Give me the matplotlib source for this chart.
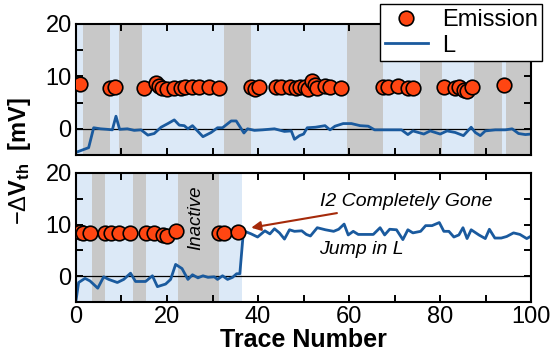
import matplotlib
matplotlib.use("Agg")
import matplotlib.pyplot as plt
import numpy as np

plt.rcParams['font.family'] = ['Liberation Sans', 'DejaVu Sans']
plt.rcParams['mathtext.fontset'] = 'custom'
plt.rcParams['mathtext.rm'] = 'Liberation Sans'
plt.rcParams['mathtext.it'] = 'Liberation Sans:italic'
plt.rcParams['mathtext.bf'] = 'Liberation Sans:bold'

# top panel: emission events and L
top_em_x = [1, 7.5, 8.5, 15, 17.5, 18.3, 19, 20, 21.5, 23, 24, 25.5, 27, 29.3, 31.5,
            38.5, 39.3, 40.3, 44, 45, 47, 48.3, 49.3, 50.3, 51, 51.8, 52.5, 53, 54.7,
            55.8, 58.3, 67.5, 68.6, 70.8, 73, 74, 80.8, 83.3, 84.1, 85.2, 85.9, 87, 93.9]
top_em_y = [8.5, 7.8, 8.0, 7.7, 8.8, 8.2, 7.8, 7.6, 7.8, 7.8, 7.9, 7.9, 8.0, 8.0, 7.8,
            7.9, 7.6, 7.9, 7.9, 8.0, 8.0, 7.8, 7.9, 8.0, 7.6, 9.2, 8.4, 7.8, 8.2,
            7.9, 7.8, 8.0, 8.0, 8.2, 7.7, 7.7, 7.9, 7.8, 7.9, 7.5, 7.3, 8.0, 8.3]
top_l_x = [0, 2.8, 3.9, 5.4, 6.9, 8.0, 8.8, 9.6, 11.3, 12.8, 14.3, 15.8, 17.2, 18.7, 20.2,
           21.6, 22.7, 23.8, 24.6, 25.6, 27.9, 29.7, 31.1, 32.2, 34.1, 35.2, 36.9, 37.7,
           39.2, 41.0, 43.6, 45.8, 47.3, 48.0, 49.1, 50.0, 50.8, 52.6, 54.7, 55.8, 56.9,
           58.7, 60.5, 62.4, 64.2, 65.6, 67.8, 70.0, 71.5, 72.9, 74.0, 76.4, 77.8, 80.0,
           81.5, 83.3, 85.1, 86.8, 87.7, 88.8, 89.9, 92.1, 94.3, 95.8, 97.2, 98.7, 100]
top_l_y = [-4.5, -3.6, 0.2, 0.0, -0.1, -0.2, 2.4, -0.1, 0.0, -0.3, -0.2, -1.2, -0.9, 0.3, 1.0,
           1.7, 0.7, 0.6, 0.0, 0.6, -1.5, -0.7, 0.2, 0.2, 1.5, 1.5, -0.8, 0.0,
           -0.3, -0.2, 0.0, -0.5, -0.4, -2.0, -1.3, -1.0, 0.2, 0.3, 0.6, -0.2, 0.5,
           1.0, 1.0, 0.6, 0.5, -0.2, -0.2, -0.2, -0.2, -1.1, -0.4, -1.0, -0.4, -1.0,
           -0.4, -0.7, -1.3, 0.3, -0.7, -1.3, -0.4, -0.2, -0.2, 0.0, -0.9, -1.1, -1.0]
top_gray = [(1.5, 7.5), (9.5, 14.5), (32.5, 38.5), (59.5, 67.5), (75.5, 80.5),
            (87.5, 93.5), (94.5, 100)]

# bottom panel
bot_em_x = [0.8, 1.6, 3.0, 6.5, 7.6, 9.5, 11.8, 15.4, 17.2, 19.2, 20.0, 22.0, 31.5, 32.6, 35.5]
bot_em_y = [8.6, 8.4, 8.4, 8.4, 8.4, 8.4, 8.4, 8.4, 8.4, 8.0, 7.7, 8.7, 8.4, 8.4, 8.5]
bot_l_x = [0, 0.6, 2.0, 3.1, 4.8, 6.1, 7.2, 9.1, 10.5, 12.0, 13.1, 15.3, 16.8, 17.9, 19.7,
           20.8, 21.9, 23.3, 24.6, 25.6, 26.8, 27.9, 29.0, 30.4, 31.1, 32.2, 33.3, 34.4,
           35.3, 36.0, 36.8, 38.5, 39.9, 41.5, 42.6, 43.6, 44.7, 45.8, 46.9, 48.0, 49.6,
           50.6, 51.5, 53.0, 54.8, 56.6, 57.7, 58.9, 59.8, 60.9, 62.0, 64.2, 65.3, 66.8,
           67.8, 68.9, 70.4, 71.8, 72.9, 74.0, 75.7, 76.8, 78.2, 79.8, 80.8, 81.9, 83.0,
           84.1, 85.0, 85.9, 86.8, 88.5, 89.9, 90.8, 92.0, 93.4, 94.6, 96.1, 97.5, 99.0, 100]
bot_l_y = [-4.8, -1.2, -0.4, -0.9, -2.3, -0.1, -0.6, -1.2, -0.6, 0.6, -1.0, -1.0, 0.1, -2.0, -1.5,
           -0.6, 2.3, 1.5, -0.6, 0.3, -0.3, 0.1, -0.2, -0.1, -0.6, 0.1, -0.6, -0.2,
           0.5, 0.5, 8.8, 8.2, 7.6, 8.8, 8.2, 9.2, 8.4, 7.2, 9.0, 8.7, 8.8,
           8.1, 7.8, 9.4, 9.0, 8.7, 9.1, 10.1, 8.0, 8.7, 8.1, 8.1, 8.1, 9.4,
           8.0, 9.1, 9.0, 7.1, 9.0, 8.4, 8.7, 9.8, 9.8, 10.4, 8.7, 8.7, 7.6,
           8.0, 9.4, 7.3, 9.0, 8.0, 7.3, 9.1, 7.4, 7.4, 7.7, 8.4, 8.1, 7.3, 7.8]
bot_blue = (0, 36.5)
bot_gray = [(3.5, 6.5), (12.5, 15.5), (22.5, 31.5)]

light_blue = '#dce9f7'
gray = '#c8c8c8'
em_color = '#ff4612'
l_color = '#1a5a9e'

fig = plt.figure(figsize=(5.54, 3.58), dpi=100)
ax1 = fig.add_axes([0.137, 0.567, 0.822, 0.366])
ax2 = fig.add_axes([0.137, 0.156, 0.822, 0.361])

ax1.set_facecolor(light_blue)
for a, b in top_gray:
    ax1.axvspan(a, b, color=gray, lw=0, zorder=0)
ax2.axvspan(*bot_blue, color=light_blue, lw=0, zorder=0)
for a, b in bot_gray:
    ax2.axvspan(a, b, color=gray, lw=0, zorder=0)

for ax, lx, ly, ex, ey in [(ax1, top_l_x, top_l_y, top_em_x, top_em_y),
                           (ax2, bot_l_x, bot_l_y, bot_em_x, bot_em_y)]:
    ax.axhline(0, color='k', lw=0.9, zorder=1)
    ax.plot(lx, ly, color=l_color, lw=2.0, zorder=2, label='L')
    ax.plot(ex, ey, 'o', ms=10.5, mfc=em_color, mec='k', mew=1.2, zorder=3, label='Emission')
    ax.set_xlim(0, 100)
    ax.set_ylim(-5, 20)
    ax.set_xticks(np.arange(0, 101, 10))
    ax.set_yticks([-5, 0, 5, 10, 15, 20])
    ax.set_yticklabels(['', '0', '', '10', '', '20'])
    ax.tick_params(direction='in', length=5, width=1.4, top=True, right=True,
                   labelsize=17, pad=3)
    for s in ax.spines.values():
        s.set_linewidth(1.5)

ax1.set_xticklabels([])
ax2.set_xticklabels(['0', '', '20', '', '40', '', '60', '', '80', '', '100'])

handles, labels = ax1.get_legend_handles_labels()
fig.legend(handles[::-1], labels[::-1], loc='upper right', bbox_to_anchor=(0.979, 0.988),
           fontsize=17, frameon=True, fancybox=False, edgecolor='k', framealpha=1,
           handlelength=1.8, borderpad=0.2, labelspacing=0.15, handletextpad=0.6,
           borderaxespad=0)

ax2.text(26.3, 11.3, 'Inactive', rotation=90, style='italic', fontsize=13.5,
         ha='center', va='center')
ax2.annotate('I2 Completely Gone', xy=(38.5, 9.4), xytext=(53.5, 14.5),
             style='italic', fontsize=14, ha='left', va='center',
             arrowprops=dict(arrowstyle='-|>', color='#a52a0a', lw=1.5,
                             mutation_scale=14, shrinkA=2, shrinkB=0))
ax2.text(53.4, 5.2, 'Jump in L', style='italic', fontsize=14, ha='left', va='center')

fig.text(0.036, 0.55, r'$-\Delta\mathbf{V_{th}}$  [mV]', rotation=90, fontsize=17,
         fontweight='bold', ha='center', va='center')
ax2.set_xlabel('Trace Number', fontsize=18, fontweight='bold', labelpad=0)

fig.savefig('out.png', dpi=100)
